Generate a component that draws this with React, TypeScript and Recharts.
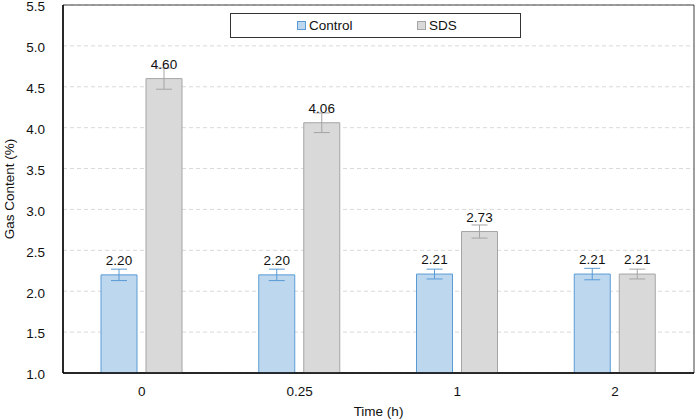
import React from "react";
import {
  BarChart,
  Bar,
  XAxis,
  YAxis,
  CartesianGrid,
  ErrorBar,
  LabelList,
  Legend,
  ReferenceArea,
} from "recharts";

// values
const times = ["0", "0.25", "1", "2"];
const controlValues = [2.2, 2.2, 2.21, 2.21];
const controlErrors = [0.07, 0.07, 0.06, 0.07];
const sdsValues = [4.6, 4.06, 2.73, 2.21];
const sdsErrors = [0.13, 0.12, 0.08, 0.06];
const yTicks = [1.0, 1.5, 2.0, 2.5, 3.0, 3.5, 4.0, 4.5, 5.0, 5.5];

const data = times.map((t, i) => ({
  time: t,
  control: controlValues[i],
  controlErr: controlErrors[i],
  sds: sdsValues[i],
  sdsErr: sdsErrors[i],
}));

const FONT = "'Liberation Sans', Arial, Helvetica, sans-serif";
const FS = 13.5;

const LegendBox = () => (
  <div
    style={{
      position: "relative",
      width: 291,
      height: 25,
      boxSizing: "border-box",
      border: "1.5px solid #333",
      background: "#fff",
      fontFamily: FONT,
      fontSize: FS,
      color: "#111",
    }}
  >
    <div style={{ position: "absolute", left: 66, top: 4, display: "flex", alignItems: "center" }}>
      <span
        style={{
          width: 7,
          height: 7,
          background: "#BDD7EE",
          border: "1px solid #5B9BD5",
          marginRight: 3,
        }}
      />
      <span>Control</span>
    </div>
    <div style={{ position: "absolute", left: 186, top: 4, display: "flex", alignItems: "center" }}>
      <span
        style={{
          width: 7,
          height: 7,
          background: "#D9D9D9",
          border: "1px solid #A5A5A5",
          marginRight: 3,
        }}
      />
      <span>SDS</span>
    </div>
  </div>
);

const YTitle = (props: any) => {
  const vb = props.viewBox || { x: 0, y: 0, width: 0, height: 0 };
  const x = vb.x + 9;
  const y = vb.y + vb.height / 2;
  return (
    <text
      x={x}
      y={y}
      transform={`rotate(-90 ${x} ${y})`}
      textAnchor="middle"
      dominantBaseline="central"
      fontSize={FS}
      fill="#111"
      fontFamily={FONT}
    >
      Gas Content (%)
    </text>
  );
};

export default function App() {
  return (
    <div style={{ position: "absolute", left: 0, top: 0, background: "#fff" }}>
      <BarChart
        width={699}
        height={420}
        data={data}
        margin={{ top: 5, right: 5, left: 0, bottom: 0 }}
        barGap={9}
        style={{ fontFamily: FONT }}
      >
        <CartesianGrid
          vertical={false}
          stroke="#D9D9D9"
          strokeDasharray="4 3"
        />
        <XAxis
          dataKey="time"
          height={47}
          tickSize={0}
          tickMargin={13}
          axisLine={{ stroke: "#000", strokeWidth: 1.5 }}
          tick={{ fill: "#111", fontSize: FS }}
          label={{
            value: "Time (h)",
            position: "insideBottom",
            offset: 4,
            fill: "#111",
            fontSize: FS,
          }}
        />
        <YAxis
          width={63}
          domain={[1, 5.5]}
          ticks={yTicks}
          interval={0}
          tickSize={0}
          tickMargin={18}
          allowDataOverflow
          axisLine={{ stroke: "#000", strokeWidth: 1.5 }}
          tick={{ fill: "#111", fontSize: FS, dy: 1.5 }}
          tickFormatter={(v) => Number(v).toFixed(1)}
          label={<YTitle />}
        />
        <ReferenceArea
          y1={1}
          y2={5.5}
          fill="none"
          stroke="#404040"
          strokeWidth={1}
          ifOverflow="visible"
        />
        <Legend
          layout="vertical"
          verticalAlign="middle"
          align="center"
          content={<LegendBox />}
          wrapperStyle={{ top: 13, left: 230, width: 291, height: 25 }}
        />
        <Bar
          dataKey="control"
          name="Control"
          barSize={36}
          fill="#BDD7EE"
          stroke="#5B9BD5"
          strokeWidth={1}
          isAnimationActive={false}
        >
          <ErrorBar
            dataKey="controlErr"
            width={8}
            stroke="#5B9BD5"
            strokeWidth={1}
            direction="y"
          />
          <LabelList
            dataKey="control"
            position="top"
            offset={10}
            fill="#111"
            fontSize={FS}
            formatter={(v: any) => Number(v).toFixed(2)}
          />
        </Bar>
        <Bar
          dataKey="sds"
          name="SDS"
          barSize={36}
          fill="#D9D9D9"
          stroke="#A5A5A5"
          strokeWidth={1}
          isAnimationActive={false}
        >
          <ErrorBar
            dataKey="sdsErr"
            width={8}
            stroke="#A5A5A5"
            strokeWidth={1}
            direction="y"
          />
          <LabelList
            dataKey="sds"
            position="top"
            offset={10}
            fill="#111"
            fontSize={FS}
            formatter={(v: any) => Number(v).toFixed(2)}
          />
        </Bar>
      </BarChart>
    </div>
  );
}
